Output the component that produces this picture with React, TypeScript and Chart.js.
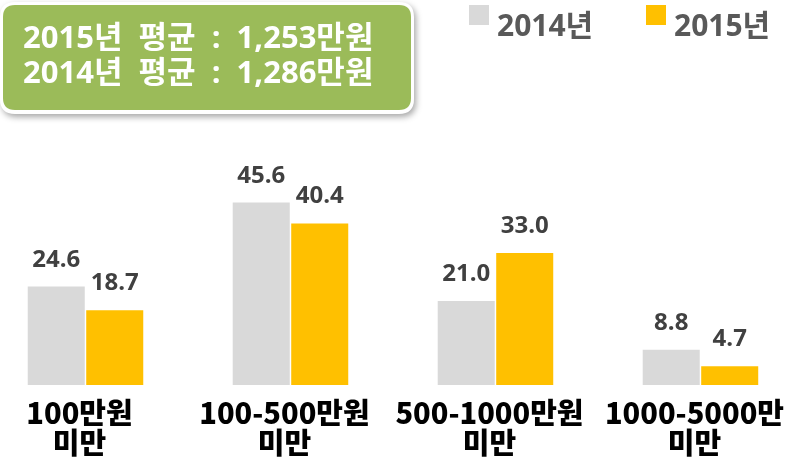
import React, { useEffect, useRef } from "react";
import { Chart, registerables } from "chart.js";

Chart.register(...registerables);

// Income bands (two-line tick labels)
const categories: string[][] = [
  ["100만원", "미만"],
  ["100-500만원", "미만"],
  ["500-1000만원", "미만"],
  ["1000-5000만", "미만"],
];
const seriesNames = ["2014년", "2015년"];
const values2014 = [24.6, 45.6, 21.0, 8.8];
const values2015 = [18.7, 40.4, 33.0, 4.7];
const summaryLines = ["2015년  평균  :  1,253만원", "2014년  평균  :  1,286만원"];

const CJK = '"Noto Sans CJK KR", sans-serif';
const MIXED = '"Open Sans", "Noto Sans CJK KR", sans-serif';
const GRAY = "#D9D9D9";
const GOLD = "#FFC000";
// canvas is shifted left so the first group sits near the page edge
const SHIFT = 17;

const roundRect = (ctx: CanvasRenderingContext2D, x: number, y: number, w: number, h: number, r: number) => {
  ctx.beginPath();
  ctx.moveTo(x + r, y);
  ctx.lineTo(x + w - r, y);
  ctx.quadraticCurveTo(x + w, y, x + w, y + r);
  ctx.lineTo(x + w, y + h - r);
  ctx.quadraticCurveTo(x + w, y + h, x + w - r, y + h);
  ctx.lineTo(x + r, y + h);
  ctx.quadraticCurveTo(x, y + h, x, y + h - r);
  ctx.lineTo(x, y + r);
  ctx.quadraticCurveTo(x, y, x + r, y);
  ctx.closePath();
};

const valueLabels = {
  id: "valueLabels",
  afterDatasetsDraw(chart: any) {
    const ctx = chart.ctx as CanvasRenderingContext2D;
    ctx.save();
    ctx.font = `bold 24px ${MIXED}`;
    ctx.fillStyle = "#404040";
    ctx.textAlign = "center";
    ctx.textBaseline = "alphabetic";
    chart.data.datasets.forEach((ds: any, di: number) => {
      const meta = chart.getDatasetMeta(di);
      meta.data.forEach((el: any, i: number) => {
        ctx.fillText(Number(ds.data[i]).toFixed(1), el.x, el.y - 20);
      });
    });
    ctx.restore();
  },
};

const decorations = {
  id: "decorations",
  afterDraw(chart: any) {
    const ctx = chart.ctx as CanvasRenderingContext2D;
    ctx.save();
    ctx.translate(SHIFT, 0);

    // summary box with white rim and soft shadow
    ctx.save();
    ctx.shadowColor = "rgba(0,0,0,0.35)";
    ctx.shadowBlur = 6;
    ctx.shadowOffsetX = 2;
    ctx.shadowOffsetY = 3;
    ctx.fillStyle = "#FFFFFF";
    roundRect(ctx, 0, 2, 414, 112, 15);
    ctx.fill();
    ctx.restore();
    ctx.fillStyle = "#9BBB59";
    roundRect(ctx, 3, 5, 408, 105, 12);
    ctx.fill();

    ctx.fillStyle = "#FFFFFF";
    ctx.font = `bold 31px ${MIXED}`;
    ctx.textAlign = "left";
    ctx.textBaseline = "alphabetic";
    ctx.fillText(summaryLines[0], 23, 48);
    ctx.fillText(summaryLines[1], 23, 83);

    // legend
    const legendX = [469, 646];
    chart.data.datasets.forEach((ds: any, i: number) => {
      ctx.fillStyle = ds.backgroundColor;
      ctx.fillRect(legendX[i], 5, 20, 20);
      ctx.fillStyle = "#595959";
      ctx.font = `bold 30px ${MIXED}`;
      ctx.fillText(ds.label, legendX[i] + 28, 36);
    });
    ctx.restore();
  },
};

export default function App() {
  const ref = useRef<HTMLCanvasElement>(null);

  useEffect(() => {
    if (!ref.current) return;
    const chart = new Chart(ref.current, {
      type: "bar",
      data: {
        labels: categories,
        datasets: [
          { label: seriesNames[0], data: values2014, backgroundColor: GRAY },
          { label: seriesNames[1], data: values2015, backgroundColor: GOLD },
        ],
      },
      options: {
        responsive: false,
        animation: false,
        layout: { padding: { top: 145, left: 0, right: 0, bottom: 0 } },
        datasets: {
          bar: { categoryPercentage: 0.5707, barPercentage: 0.975 },
        },
        plugins: {
          legend: { display: false },
          tooltip: { enabled: false },
          title: { display: false },
        },
        scales: {
          x: {
            grid: { display: false, drawTicks: false },
            border: { display: false },
            ticks: {
              color: "#000000",
              padding: 13,
              labelOffset: -6,
              maxRotation: 0,
              autoSkip: false,
              font: { family: CJK, size: 29, weight: 900, lineHeight: 1.04 },
            },
            afterFit: (scale: any) => {
              scale.height = 77;
            },
          },
          y: { display: false, min: 0, max: 60 },
        },
      },
      plugins: [valueLabels, decorations],
    } as any);
    return () => chart.destroy();
  }, []);

  return (
    <div
      style={{
        position: "fixed",
        left: 0,
        top: 0,
        width: 801,
        height: 462,
        overflow: "hidden",
        background: "#FFFFFF",
      }}
    >
      <canvas
        ref={ref}
        width={820}
        height={462}
        style={{ position: "absolute", left: -SHIFT, top: 0, width: 820, height: 462 }}
      />
    </div>
  );
}
